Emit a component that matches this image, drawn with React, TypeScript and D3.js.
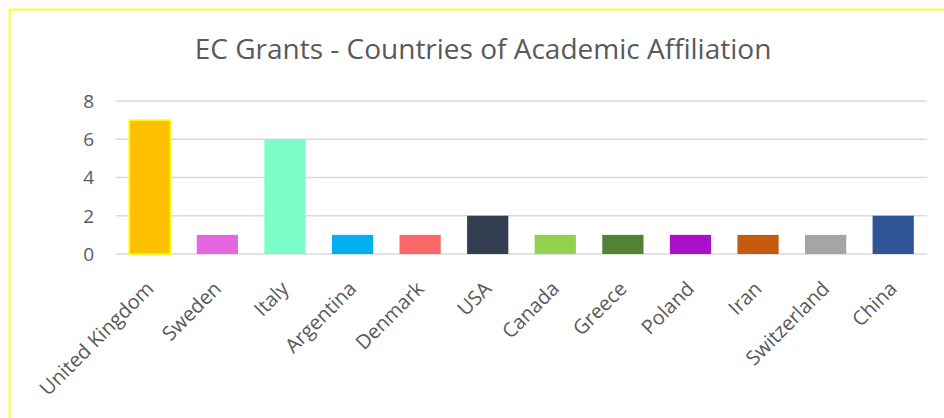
import React, { useEffect, useRef } from 'react';
import * as d3 from 'd3';

const countries = ['United Kingdom', 'Sweden', 'Italy', 'Argentina', 'Denmark', 'USA', 'Canada', 'Greece', 'Poland', 'Iran', 'Switzerland', 'China'];
const grants = [7, 1, 6, 1, 1, 2, 1, 1, 1, 1, 1, 2];
const barColors = ['#FFC000', '#E466E0', '#7BFCC8', '#00B0F0', '#FB6868', '#333F50', '#92D050', '#548235', '#AA10C8', '#C55A11', '#A5A5A5', '#2F5597'];
const yTicks = [0, 2, 4, 6, 8];
const title = 'EC Grants - Countries of Academic Affiliation';

export default function App() {
  const svgRef = useRef<SVGSVGElement>(null);

  useEffect(() => {
    const w = 944;
    const h = 418;
    const svg = d3.select(svgRef.current)
      .attr('width', w)
      .attr('height', h);
    svg.selectAll('*').remove();

    const font = '"Open Sans", sans-serif';
    const textColor = '#595959';

    // chart frame
    svg.append('rect')
      .attr('x', 9.5)
      .attr('y', 9.5)
      .attr('width', 960)
      .attr('height', 440)
      .attr('fill', 'white')
      .attr('stroke', '#FFFF00')
      .attr('stroke-width', 1.8);

    const xScale = d3.scaleBand()
      .domain(countries)
      .range([116, 927])
      .paddingInner(0.39)
      .paddingOuter(0.195);

    const yScale = d3.scaleLinear()
      .domain([0, 8])
      .range([254, 101]);

    // gridlines
    svg.append('g')
      .selectAll('line')
      .data(yTicks)
      .join('line')
        .attr('x1', 116)
        .attr('x2', 927)
        .attr('y1', d => yScale(d))
        .attr('y2', d => yScale(d))
        .attr('stroke', '#D9D9D9')
        .attr('stroke-width', 1.5);

    // y tick labels
    svg.append('g')
      .selectAll('text')
      .data(yTicks)
      .join('text')
        .attr('x', 94)
        .attr('y', d => yScale(d))
        .attr('dy', '0.36em')
        .attr('text-anchor', 'end')
        .attr('font-family', font)
        .attr('font-size', 19)
        .attr('fill', textColor)
        .text(d => d);

    // bars
    svg.append('g')
      .selectAll('rect')
      .data(grants)
      .join('rect')
        .attr('x', (d, i) => xScale(countries[i]))
        .attr('y', d => yScale(d))
        .attr('width', xScale.bandwidth())
        .attr('height', d => yScale(0) - yScale(d))
        .attr('fill', (d, i) => barColors[i])
        .attr('stroke', (d, i) => i === 0 ? '#FFFF00' : 'none')
        .attr('stroke-width', 1.5);

    // x labels
    svg.append('g')
      .selectAll('text')
      .data(countries)
      .join('text')
        .attr('transform', d => `translate(${xScale(d) + xScale.bandwidth() / 2 + 5}, 290) rotate(-45)`)
        .attr('text-anchor', 'end')
        .attr('font-family', font)
        .attr('font-size', 20)
        .attr('fill', textColor)
        .text(d => d);

    // title
    svg.append('text')
      .attr('x', 483)
      .attr('y', 59)
      .attr('text-anchor', 'middle')
      .attr('font-family', font)
      .attr('font-size', 28)
      .attr('fill', textColor)
      .text(title);
  }, []);

  return (
    <div style={{ position: 'absolute', left: 0, top: 0 }}>
      <svg ref={svgRef} style={{ display: 'block' }}></svg>
    </div>
  );
}
